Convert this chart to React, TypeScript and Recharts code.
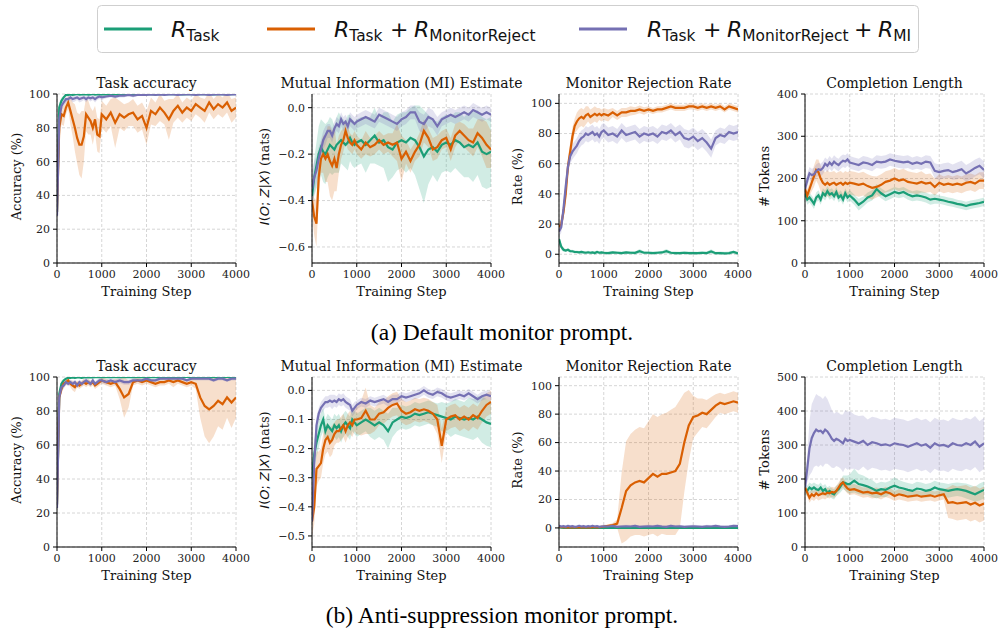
import React from 'react';
import { ComposedChart, Line, Area, XAxis, YAxis, CartesianGrid } from 'recharts';

// ---------- shared x values (training steps) ----------
const STEPS = [
  0, 50, 100, 150, 200, 250, 300, 350, 400, 450,
  500, 550, 600, 650, 700, 750, 800, 850, 900, 950,
  1000, 1100, 1200, 1300, 1400, 1500, 1600, 1700, 1800, 1900,
  2000, 2100, 2200, 2300, 2400, 2500, 2600, 2700, 2800, 2900,
  3000, 3100, 3200, 3300, 3400, 3500, 3600, 3700, 3800, 3900,
  4000,
];
const X_TICKS = [0, 1000, 2000, 3000, 4000];

const C_TASK = '#1b9e77';
const C_MON = '#d95f02';
const C_MI = '#7570b3';

// ---------- (a) Task accuracy ----------
const accA_task = [
  30, 92, 96, 98, 99.5, 99.5, 99.8, 99.5, 99.8, 100,
  99.6, 99.8, 99.7, 99.9, 99.6, 99.8, 100, 99.7, 99.9, 99.8,
  99.9, 99.8, 99.9, 99.7, 99.9, 99.8, 100, 99.9, 99.8, 99.9,
  100, 99.9, 99.8, 99.9, 100, 99.9, 99.9, 100, 99.8, 99.9,
  100, 99.9, 99.9, 100, 99.9, 99.8, 99.9, 100, 99.9, 99.9,
  100,
];
const accA_task_sd = [
  5, 3, 2, 1, 0.5, 0.5, 0.3, 0.5, 0.3, 0.2,
  0.3, 0.3, 0.3, 0.2, 0.3, 0.3, 0.2, 0.3, 0.2, 0.3,
  0.2, 0.3, 0.2, 0.3, 0.2, 0.3, 0.2, 0.2, 0.3, 0.2,
  0.2, 0.2, 0.3, 0.2, 0.2, 0.2, 0.2, 0.2, 0.3, 0.2,
  0.2, 0.2, 0.2, 0.2, 0.2, 0.3, 0.2, 0.2, 0.2, 0.2,
  0.2,
];
const accA_mon = [
  30, 80, 88, 87, 92, 95, 90, 85, 80, 74,
  70, 70, 75, 88, 86, 84, 80, 85, 76, 75,
  88, 85, 89, 83, 88, 86, 88, 89, 85, 87,
  80, 90, 88, 92, 89, 85, 90, 93, 89, 92,
  90, 94, 92, 90, 95, 91, 94, 92, 95, 90,
  92,
];
const accA_mon_sd = [
  5, 8, 6, 6, 4, 4, 8, 10, 14, 15,
  18, 20, 15, 10, 10, 8, 10, 8, 10, 10,
  8, 8, 8, 15, 8, 8, 7, 8, 8, 8,
  10, 8, 7, 8, 7, 12, 7, 7, 6, 6,
  6, 6, 6, 7, 6, 6, 6, 6, 6, 7,
  6,
];
const accA_mi = [
  28, 85, 93, 95, 97, 97, 98, 97, 97.5, 98,
  97, 97.5, 98, 97, 98, 97.5, 98, 97, 98, 98.5,
  98, 98.5, 99, 98.5, 99, 99, 99.5, 99, 99.5, 99.5,
  99.5, 99.8, 99.5, 99.8, 99.5, 99.8, 99.8, 99.5, 99.8, 99.8,
  99.8, 99.5, 99.8, 99.8, 99.5, 99.8, 99.8, 99.8, 99.5, 99.8,
  99.8,
];
const accA_mi_sd = [
  5, 5, 3, 2, 2, 2, 1.5, 2, 2, 1.5,
  2, 2, 1.5, 2, 1.5, 2, 1.5, 2, 1.5, 1.5,
  1.5, 1, 1, 1, 1, 1, 0.5, 1, 0.5, 0.5,
  0.5, 0.5, 0.5, 0.5, 0.5, 0.5, 0.5, 0.5, 0.5, 0.5,
  0.5, 0.5, 0.5, 0.5, 0.5, 0.5, 0.5, 0.5, 0.5, 0.5,
  0.5,
];

// ---------- (a) MI estimate ----------
const miA_task = [
  -0.38, -0.3, -0.25, -0.2, -0.17, -0.19, -0.2, -0.18, -0.16, -0.17,
  -0.18, -0.16, -0.15, -0.14, -0.15, -0.16, -0.15, -0.13, -0.15, -0.16,
  -0.15, -0.14, -0.16, -0.14, -0.12, -0.15, -0.14, -0.17, -0.18, -0.15,
  -0.14, -0.15, -0.13, -0.14, -0.17, -0.21, -0.18, -0.17, -0.19, -0.16,
  -0.15, -0.16, -0.14, -0.15, -0.17, -0.16, -0.17, -0.15, -0.19, -0.2,
  -0.19,
];
const miA_task_sd = [
  0.05, 0.08, 0.1, 0.12, 0.12, 0.13, 0.13, 0.12, 0.12, 0.12,
  0.1, 0.12, 0.13, 0.1, 0.1, 0.1, 0.12, 0.1, 0.1, 0.1,
  0.1, 0.1, 0.12, 0.1, 0.12, 0.1, 0.12, 0.15, 0.12, 0.12,
  0.12, 0.13, 0.13, 0.15, 0.18, 0.2, 0.15, 0.12, 0.13, 0.12,
  0.12, 0.12, 0.12, 0.13, 0.13, 0.14, 0.15, 0.14, 0.15, 0.15,
  0.15,
];
const miA_mon = [
  -0.4, -0.47, -0.5, -0.3, -0.22, -0.2, -0.22, -0.2, -0.23, -0.25,
  -0.22, -0.26, -0.2, -0.16, -0.14, -0.1, -0.13, -0.15, -0.16, -0.14,
  -0.16, -0.18, -0.15, -0.17, -0.16, -0.14, -0.16, -0.15, -0.16, -0.15,
  -0.22, -0.19, -0.23, -0.19, -0.16, -0.1, -0.13, -0.18, -0.17, -0.14,
  -0.13, -0.18, -0.12, -0.1, -0.12, -0.14, -0.15, -0.11, -0.13, -0.16,
  -0.18,
];
const miA_mon_sd = [
  0.06, 0.08, 0.1, 0.08, 0.06, 0.08, 0.1, 0.12, 0.15, 0.15,
  0.14, 0.1, 0.08, 0.06, 0.05, 0.05, 0.05, 0.04, 0.04, 0.04,
  0.04, 0.04, 0.05, 0.04, 0.04, 0.04, 0.04, 0.04, 0.05, 0.08,
  0.1, 0.05, 0.05, 0.04, 0.05, 0.05, 0.04, 0.05, 0.05, 0.04,
  0.04, 0.05, 0.05, 0.04, 0.05, 0.05, 0.06, 0.06, 0.08, 0.1,
  0.08,
];
const miA_mi = [
  -0.35, -0.3, -0.27, -0.22, -0.18, -0.14, -0.12, -0.1, -0.1, -0.12,
  -0.09, -0.07, -0.08, -0.05, -0.07, -0.06, -0.08, -0.05, -0.06, -0.07,
  -0.06, -0.05, -0.04, -0.05, -0.06, -0.03, -0.04, -0.05, -0.06, -0.07,
  -0.05, -0.04, -0.02, -0.02, -0.06, -0.07, -0.04, -0.05, -0.08, -0.05,
  -0.04, -0.03, -0.04, -0.03, -0.02, -0.03, -0.01, -0.02, -0.03, -0.02,
  -0.03,
];
const miA_mi_sd = [
  0.08, 0.07, 0.06, 0.05, 0.04, 0.04, 0.04, 0.03, 0.03, 0.03,
  0.03, 0.03, 0.03, 0.03, 0.03, 0.03, 0.03, 0.03, 0.03, 0.03,
  0.03, 0.03, 0.03, 0.03, 0.03, 0.03, 0.03, 0.03, 0.03, 0.03,
  0.03, 0.03, 0.03, 0.03, 0.04, 0.04, 0.04, 0.04, 0.04, 0.03,
  0.03, 0.03, 0.03, 0.03, 0.03, 0.03, 0.03, 0.03, 0.03, 0.03,
  0.03,
];

// ---------- (a) Monitor rejection rate ----------
const rejA_task = [
  10, 5, 3, 2.5, 3, 2, 2, 1.5, 1.5, 1.2,
  1.5, 1.2, 1, 1.3, 1, 1.2, 0.8, 1.5, 1, 1.2,
  1, 0.8, 1.2, 1, 0.8, 1.2, 1, 0.9, 2, 1,
  1, 0.8, 1, 1.2, 2, 1, 0.8, 0.7, 1, 0.8,
  0.8, 0.7, 1, 0.8, 1.8, 0.7, 0.8, 0.6, 0.8, 1.5,
  0.5,
];
const rejA_task_sd = [
  3, 2, 1.5, 1, 1, 1, 1, 1, 1, 1,
  1, 1, 1, 1, 1, 1, 1, 1, 1, 1,
  1, 1, 1, 1, 1, 1, 1, 1, 1.5, 1,
  1, 1, 1, 1, 1.5, 1, 1, 1, 1, 1,
  1, 1, 1, 1, 1.5, 1, 1, 1, 1, 1,
  1,
];
const rejA_mon = [
  18, 20, 28, 40, 58, 68, 78, 85, 88, 90,
  91, 90, 92, 93, 91, 92, 93, 92, 93, 92,
  93, 92, 94, 92, 94, 94, 95, 95, 96, 95,
  96, 95, 96, 96, 97, 98, 97, 97, 97, 98,
  98, 97, 98, 97, 98, 97, 98, 96, 98, 97,
  96,
];
const rejA_mon_sd = [
  3, 4, 5, 6, 6, 6, 6, 5, 6, 6,
  6, 6, 6, 5, 5, 5, 5, 5, 4, 4,
  4, 4, 3, 3, 3, 3, 3, 2.5, 2.5, 2.5,
  2, 2, 2, 2, 2, 2, 2, 2, 2, 2,
  2, 2, 2, 2, 2, 2, 2, 2, 2, 2,
  2,
];
const rejA_mi = [
  15, 18, 30, 45, 58, 65, 68, 70, 72, 75,
  77, 78, 80, 79, 80, 81, 79, 80, 78, 81,
  82, 79, 80, 78, 82, 79, 80, 81, 78, 80,
  79, 80, 78, 81, 80, 82, 79, 81, 77, 76,
  78, 75, 77, 74, 70, 77, 79, 78, 81, 80,
  81,
];
const rejA_mi_sd = [
  3, 4, 5, 5, 5, 5, 5, 5, 5, 5,
  5, 5, 5, 5, 5, 5, 5, 5, 5, 5,
  5, 5, 5, 5, 5, 5, 5, 5, 5, 5,
  5, 5, 5, 5, 5, 5, 5, 5, 6, 6,
  6, 6, 6, 6, 6, 5, 5, 5, 5, 5,
  5,
];

// ---------- (a) Completion length ----------
const lenA_task = [
  165, 150, 155, 148, 140, 155, 160, 150, 165, 160,
  170, 162, 165, 158, 168, 155, 160, 150, 165, 155,
  160, 150, 138, 145, 155, 160, 175, 165, 158, 163,
  168, 165, 168, 162, 158, 160, 158, 155, 150, 152,
  150, 148, 145, 143, 140, 138, 135, 138, 140, 142,
  145,
];
const lenA_task_sd = [
  10, 12, 12, 12, 12, 12, 12, 12, 12, 12,
  12, 12, 12, 12, 12, 12, 12, 12, 12, 12,
  12, 12, 14, 12, 12, 12, 12, 12, 12, 12,
  12, 12, 12, 12, 12, 12, 12, 12, 12, 12,
  10, 10, 10, 10, 10, 10, 10, 10, 10, 10,
  10,
];
const lenA_mon = [
  175, 160, 175, 190, 205, 220, 215, 200, 190, 185,
  190, 185, 188, 190, 185, 188, 190, 185, 190, 187,
  190, 188, 185, 188, 182, 178, 180, 185, 192, 195,
  200, 195, 198, 192, 190, 188, 192, 188, 190, 180,
  190, 185, 188, 185, 188, 185, 190, 192, 188, 195,
  195,
];
const lenA_mon_sd = [
  10, 15, 15, 20, 25, 25, 30, 30, 30, 30,
  30, 30, 28, 28, 28, 28, 28, 28, 28, 28,
  28, 28, 28, 28, 28, 28, 25, 25, 25, 25,
  25, 25, 25, 25, 25, 25, 25, 22, 22, 20,
  20, 20, 20, 20, 20, 20, 20, 20, 20, 20,
  20,
];
const lenA_mi = [
  175, 195, 212, 208, 210, 218, 222, 220, 225, 235,
  230, 238, 232, 240, 235, 232, 238, 242, 240, 245,
  238, 235, 232, 238, 236, 232, 240, 238, 240, 245,
  242, 240, 238, 240, 235, 238, 235, 240, 238, 218,
  215, 218, 220, 215, 218, 222, 212, 218, 225, 230,
  220,
];
const lenA_mi_sd = [
  15, 15, 15, 15, 15, 15, 15, 15, 15, 15,
  15, 15, 15, 15, 15, 15, 15, 15, 15, 15,
  15, 15, 15, 15, 15, 15, 15, 15, 15, 15,
  15, 15, 15, 15, 15, 15, 15, 15, 15, 18,
  18, 18, 18, 18, 20, 20, 20, 20, 20, 20,
  20,
];

// ---------- (b) Task accuracy ----------
const accB_task = [
  25, 90, 96, 98, 99, 99.5, 99.5, 99.8, 99.5, 99.8,
  99.8, 99.5, 99.8, 99.9, 99.8, 99.9, 99.8, 99.9, 100, 99.9,
  99.9, 99.9, 100, 99.9, 99.9, 100, 99.9, 99.9, 100, 99.9,
  100, 99.9, 99.9, 100, 99.9, 100, 99.9, 100, 99.9, 100,
  100, 99.9, 100, 99.9, 100, 99.9, 100, 99.9, 100, 100,
  100,
];
const accB_task_sd = [
  5, 3, 2, 1, 0.5, 0.5, 0.5, 0.3, 0.5, 0.3,
  0.3, 0.3, 0.3, 0.2, 0.3, 0.2, 0.3, 0.2, 0.2, 0.2,
  0.2, 0.2, 0.2, 0.2, 0.2, 0.2, 0.2, 0.2, 0.2, 0.2,
  0.2, 0.2, 0.2, 0.2, 0.2, 0.2, 0.2, 0.2, 0.2, 0.2,
  0.2, 0.2, 0.2, 0.2, 0.2, 0.2, 0.2, 0.2, 0.2, 0.2,
  0.2,
];
const accB_mon = [
  25, 88, 93, 96, 97, 98, 96, 95, 94, 96,
  95, 96, 97, 96, 97, 96, 97, 95, 96, 97,
  98, 97, 96, 97, 93, 88, 90, 97, 98, 97,
  98, 97, 96, 97, 97, 98, 97, 98, 97, 96,
  97, 96, 88, 83, 81, 83, 86, 84, 88, 85,
  88,
];
const accB_mon_sd = [
  5, 3, 3, 2, 2, 2, 2, 3, 3, 2,
  2, 2, 2, 2, 2, 2, 2, 2, 2, 2,
  2, 2, 2, 2, 6, 12, 8, 2, 2, 2,
  2, 2, 2, 2, 2, 2, 3, 2, 2, 2,
  2, 3, 12, 18, 20, 18, 15, 15, 12, 15,
  12,
];
const accB_mi = [
  23, 88, 94, 95, 97, 96, 97, 96, 97, 95,
  97, 96, 97, 98, 97, 96, 98, 96, 97, 98,
  98, 97, 98, 97, 98, 97, 97, 98, 98, 98,
  99, 98, 98, 99, 99, 99, 99, 99, 99, 98,
  99, 99, 99, 99, 99, 98, 99, 99, 98, 99,
  99,
];
const accB_mi_sd = [
  5, 3, 2, 2, 1.5, 1.5, 1.5, 1.5, 1.5, 1.5,
  1.5, 1.5, 1.5, 1.5, 1.5, 1.5, 1.5, 1.5, 1.5, 1.5,
  1.5, 1.5, 1.5, 1.5, 1.5, 1.5, 1.5, 1.5, 1, 1,
  1, 1, 1, 1, 1, 1, 1, 1, 1, 1,
  1, 1, 1, 1, 1, 1, 1, 1, 1, 1,
  1,
];

// ---------- (b) MI estimate ----------
const miB_task = [
  -0.3, -0.22, -0.18, -0.15, -0.12, -0.1, -0.14, -0.12, -0.13, -0.14,
  -0.12, -0.13, -0.12, -0.14, -0.12, -0.11, -0.12, -0.13, -0.1, -0.11,
  -0.12, -0.11, -0.1, -0.11, -0.12, -0.11, -0.12, -0.14, -0.11, -0.1,
  -0.09, -0.095, -0.09, -0.08, -0.085, -0.08, -0.075, -0.08, -0.085, -0.09,
  -0.095, -0.1, -0.09, -0.095, -0.1, -0.095, -0.1, -0.09, -0.1, -0.11,
  -0.115,
];
const miB_task_sd = [
  0.05, 0.05, 0.05, 0.05, 0.04, 0.04, 0.04, 0.04, 0.04, 0.04,
  0.04, 0.04, 0.04, 0.04, 0.04, 0.04, 0.04, 0.04, 0.04, 0.04,
  0.04, 0.04, 0.04, 0.05, 0.05, 0.05, 0.05, 0.06, 0.05, 0.04,
  0.04, 0.04, 0.04, 0.04, 0.04, 0.04, 0.04, 0.04, 0.04, 0.05,
  0.05, 0.06, 0.06, 0.06, 0.06, 0.07, 0.07, 0.07, 0.08, 0.08,
  0.08,
];
const miB_mon = [
  -0.45, -0.4, -0.27, -0.26, -0.25, -0.2, -0.17, -0.16, -0.18, -0.17,
  -0.15, -0.14, -0.14, -0.13, -0.12, -0.14, -0.12, -0.11, -0.12, -0.1,
  -0.1, -0.095, -0.07, -0.1, -0.1, -0.08, -0.075, -0.06, -0.05, -0.045,
  -0.07, -0.08, -0.075, -0.065, -0.07, -0.065, -0.07, -0.08, -0.1, -0.19,
  -0.1, -0.09, -0.085, -0.1, -0.09, -0.1, -0.085, -0.095, -0.07, -0.05,
  -0.04,
];
const miB_mon_sd = [
  0.05, 0.06, 0.06, 0.05, 0.05, 0.05, 0.05, 0.05, 0.05, 0.05,
  0.04, 0.04, 0.04, 0.04, 0.04, 0.04, 0.04, 0.04, 0.04, 0.04,
  0.05, 0.06, 0.08, 0.05, 0.04, 0.04, 0.04, 0.04, 0.04, 0.04,
  0.04, 0.04, 0.04, 0.04, 0.04, 0.04, 0.04, 0.04, 0.05, 0.06,
  0.04, 0.04, 0.04, 0.04, 0.04, 0.04, 0.04, 0.04, 0.04, 0.04,
  0.04,
];
const miB_mi = [
  -0.45, -0.25, -0.12, -0.08, -0.06, -0.05, -0.04, -0.04, -0.035, -0.04,
  -0.035, -0.04, -0.03, -0.035, -0.03, -0.04, -0.045, -0.05, -0.07, -0.06,
  -0.05, -0.04, -0.045, -0.035, -0.04, -0.035, -0.03, -0.04, -0.03, -0.03,
  -0.02, -0.025, -0.02, -0.015, -0.01, 0, -0.01, -0.015, -0.005, -0.01,
  -0.02, -0.025, -0.02, -0.015, -0.02, -0.01, -0.02, -0.03, -0.02, -0.015,
  -0.02,
];
const miB_mi_sd = [
  0.05, 0.05, 0.03, 0.02, 0.02, 0.02, 0.02, 0.02, 0.02, 0.025,
  0.02, 0.02, 0.02, 0.02, 0.02, 0.02, 0.02, 0.02, 0.02, 0.02,
  0.015, 0.015, 0.015, 0.015, 0.015, 0.015, 0.015, 0.015, 0.015, 0.015,
  0.015, 0.015, 0.015, 0.015, 0.015, 0.015, 0.015, 0.015, 0.015, 0.015,
  0.015, 0.015, 0.015, 0.015, 0.015, 0.015, 0.015, 0.015, 0.015, 0.015,
  0.015,
];

// ---------- (b) Monitor rejection rate ----------
const rejB_task = [
  0.3, 0.2, 0.1, 0.1, 0.1, 0.1, 0.1, 0.1, 0.1, 0.1,
  0.1, 0.1, 0.1, 0.1, 0.1, 0.1, 0.1, 0.1, 0.1, 0.1,
  0.1, 0.1, 0.1, 0.1, 0.1, 0.1, 0.1, 0.1, 0.1, 0.1,
  0.1, 0.1, 0.1, 0.1, 0.1, 0.1, 0.1, 0.1, 0.1, 0.1,
  0.1, 0.1, 0.1, 0.1, 0.1, 0.1, 0.1, 0.1, 0.1, 0.1,
  0.1,
];
const rejB_task_sd = [
  0.3, 0.2, 0.2, 0.2, 0.2, 0.2, 0.2, 0.2, 0.2, 0.2,
  0.2, 0.2, 0.2, 0.2, 0.2, 0.2, 0.2, 0.2, 0.2, 0.2,
  0.2, 0.2, 0.2, 0.2, 0.2, 0.2, 0.2, 0.2, 0.2, 0.2,
  0.2, 0.2, 0.2, 0.2, 0.2, 0.2, 0.2, 0.2, 0.2, 0.2,
  0.2, 0.2, 0.2, 0.2, 0.2, 0.2, 0.2, 0.2, 0.2, 0.2,
  0.2,
];
const rejB_mon = [
  1, 0.5, 0.5, 0.3, 0.3, 0.5, 0.3, 0.5, 0.3, 0.5,
  0.3, 0.5, 0.3, 0.5, 0.3, 0.5, 0.5, 0.3, 0.5, 0.8,
  1, 1.5, 2, 3, 14, 26, 30, 32, 33, 32,
  35, 38, 36, 38, 38, 39, 40, 45, 60, 72,
  78, 79, 81, 80, 83, 86, 88, 87, 88, 89,
  88,
];
const rejB_mon_sd = [
  1, 0.5, 0.5, 0.5, 0.5, 0.5, 0.5, 0.5, 0.5, 0.5,
  0.5, 0.5, 0.5, 0.5, 0.5, 0.5, 0.5, 0.5, 0.5, 0.5,
  1, 1, 1.5, 3, 25, 35, 36, 37, 38, 38,
  40, 42, 42, 42, 43, 44, 45, 45, 35, 25,
  15, 12, 10, 10, 9, 8, 7, 7, 7, 7,
  7,
];
const rejB_mi = [
  1.5, 1, 1.2, 0.8, 1.5, 1, 1.2, 0.8, 1, 1.5,
  1, 1.2, 0.8, 1.2, 1, 1.5, 1, 1.2, 0.8, 1,
  1.2, 1, 1.5, 0.8, 1, 1.2, 1, 1.5, 0.8, 1,
  1.2, 1, 1.5, 1, 0.8, 1.5, 1, 1.2, 0.8, 1,
  1.2, 1, 0.8, 1.2, 1, 1.5, 1, 0.8, 1, 1.5,
  1.2,
];
const rejB_mi_sd = [
  1, 1, 1, 1, 1, 1, 1, 1, 1, 1,
  1, 1, 1, 1, 1, 1, 1, 1, 1, 1,
  1, 1, 1, 1, 1, 1, 1, 1, 1, 1,
  1, 1, 1, 1, 1, 1, 1, 1, 1, 1,
  1, 1, 1, 1, 1, 1, 1, 1, 1, 1,
  1,
];

// ---------- (b) Completion length ----------
const lenB_task = [
  170, 165, 175, 170, 175, 170, 168, 175, 165, 170,
  160, 165, 158, 155, 165, 170, 180, 190, 188, 185,
  185, 195, 185, 182, 178, 172, 165, 170, 168, 175,
  180, 175, 172, 168, 165, 172, 170, 165, 168, 175,
  170, 168, 165, 168, 170, 168, 165, 160, 155, 162,
  168,
];
const lenB_task_sd = [
  15, 15, 15, 15, 15, 15, 15, 15, 15, 15,
  15, 15, 15, 15, 15, 15, 18, 20, 22, 25,
  28, 35, 30, 28, 25, 25, 22, 22, 22, 20,
  25, 22, 20, 20, 20, 20, 20, 20, 20, 20,
  20, 20, 20, 20, 20, 20, 22, 22, 22, 25,
  25,
];
const lenB_mon = [
  175, 160, 145, 155, 150, 158, 152, 155, 158, 155,
  160, 158, 162, 160, 165, 175, 185, 190, 180, 172,
  168, 170, 165, 160, 162, 158, 160, 155, 162, 158,
  150, 155, 152, 148, 150, 152, 148, 150, 152, 148,
  152, 155, 130, 132, 128, 130, 132, 125, 130, 122,
  128,
];
const lenB_mon_sd = [
  10, 12, 15, 15, 15, 15, 15, 15, 15, 15,
  15, 15, 15, 15, 15, 15, 15, 15, 15, 15,
  15, 15, 15, 15, 15, 15, 15, 15, 15, 15,
  15, 15, 15, 15, 15, 15, 15, 15, 15, 15,
  15, 15, 45, 50, 50, 50, 50, 50, 50, 50,
  50,
];
const lenB_mi = [
  175, 230, 290, 320, 335, 345, 340, 342, 335, 345,
  340, 330, 318, 312, 318, 315, 310, 305, 318, 312,
  315, 310, 305, 312, 300, 308, 305, 300, 302, 298,
  305, 302, 300, 295, 300, 305, 298, 302, 292, 305,
  298, 300, 295, 305, 300, 298, 305, 300, 310, 295,
  305,
];
const lenB_mi_sd = [
  10, 40, 80, 100, 100, 105, 105, 100, 100, 100,
  95, 90, 85, 80, 80, 80, 80, 85, 85, 85,
  85, 80, 80, 75, 75, 75, 75, 75, 75, 75,
  75, 75, 75, 75, 75, 75, 75, 75, 75, 75,
  75, 75, 75, 75, 75, 75, 75, 75, 75, 75,
  75,
];

// ---------- layout helpers ----------
const SERIF = 'DejaVu Serif';
const SANS = 'DejaVu Sans';
const intFmt = (v: number) => String(Math.round(v));
const miFmt = (v: number) => (Math.abs(v) < 1e-9 ? '0.0' : (v < 0 ? '\u2212' : '') + Math.abs(v).toFixed(1));

type Series = { mean: number[]; sd: number[]; color: string };

function Panel(props: {
  left: number; top: number; w: number; h: number;
  domain: [number, number]; ticks: number[]; fmt: (v: number) => string;
  series: Series[];
}) {
  const { left, top, w, h, domain, ticks, fmt, series } = props;
  const ML = 50, MT = 10, MR = 18, XH = 34;
  const data = STEPS.map((s, i) => {
    const row: any = { step: s };
    series.forEach((sr, k) => {
      row['m' + k] = sr.mean[i];
      row['b' + k] = [sr.mean[i] - sr.sd[i], sr.mean[i] + sr.sd[i]];
    });
    return row;
  });
  const tickStyle = { fontSize: 11, fontFamily: SERIF, fill: '#222' };
  const items: any[] = [];
  series.forEach((sr, k) => {
    items.push(
      <Area key={'b' + k} dataKey={'b' + k} type="linear" stroke="none" fill={sr.color}
        fillOpacity={0.2} isAnimationActive={false} dot={false} activeDot={false} />
    );
  });
  series.forEach((sr, k) => {
    items.push(
      <Line key={'m' + k} dataKey={'m' + k} type="linear" stroke={sr.color} strokeWidth={2.2}
        dot={false} activeDot={false} isAnimationActive={false} />
    );
  });
  return (
    <div style={{ position: 'absolute', left: left - ML, top: top - MT, fontFamily: SERIF }}>
      <ComposedChart width={w + ML + MR} height={h + MT + XH} data={data}
        margin={{ top: MT, right: MR, bottom: 0, left: 0 }} style={{ fontFamily: SERIF }}>
        <CartesianGrid stroke="#d6d6d6" strokeDasharray="3 2" />
        <XAxis dataKey="step" type="number" domain={[0, 4000]} ticks={X_TICKS} interval={0}
          allowDataOverflow height={XH} tickSize={4} tickMargin={3} stroke="#000"
          tick={tickStyle} fontFamily={SERIF} />
        <XAxis xAxisId="top" orientation="top" dataKey="step" type="number" domain={[0, 4000]}
          height={0} tick={false} tickLine={false} stroke="#666" />
        <YAxis type="number" domain={domain} ticks={ticks} interval={0} allowDataOverflow
          width={ML} tickSize={4} tickMargin={3} tickFormatter={fmt} stroke="#000" tick={tickStyle}
          fontFamily={SERIF} />
        <YAxis yAxisId="right" orientation="right" type="number" domain={domain}
          width={0} tick={false} tickLine={false} stroke="#666" />
        {items}
      </ComposedChart>
    </div>
  );
}

const COLS = [57, 312, 559, 805];
const PW = 179;
const ROWS = [94, 377];
const PH = [169, 170];

const TITLES = ['Task accuracy', 'Mutual Information (MI) Estimate', 'Monitor Rejection Rate', 'Completion Length'];
const YLABELS = ['Accuracy (%)', 'MI', 'Rate (%)', '# Tokens'];
const YLABEL_X = [16, 264, 517, 764];
const CAPTIONS = ['(a) Default monitor prompt.', '(b) Anti-suppression monitor prompt.'];

function MiLabel({ x, y }: { x: number; y: number }) {
  return (
    <text transform={`translate(${x},${y}) rotate(-90)`} textAnchor="middle" dominantBaseline="central"
      fontSize={13} fill="#111">
      <tspan fontFamily={SANS} fontStyle="italic">I</tspan>
      <tspan fontFamily={SANS}>(</tspan>
      <tspan fontFamily={SANS} fontStyle="italic">O</tspan>
      <tspan fontFamily={SANS}>; </tspan>
      <tspan fontFamily={SANS} fontStyle="italic">Z</tspan>
      <tspan fontFamily={SANS}>|</tspan>
      <tspan fontFamily={SANS} fontStyle="italic">X</tspan>
      <tspan fontFamily={SANS}>)</tspan>
      <tspan fontFamily={SERIF}> (nats)</tspan>
    </text>
  );
}

export default function App() {
  const panelsA: Series[][] = [
    [{ mean: accA_task, sd: accA_task_sd, color: C_TASK }, { mean: accA_mon, sd: accA_mon_sd, color: C_MON }, { mean: accA_mi, sd: accA_mi_sd, color: C_MI }],
    [{ mean: miA_task, sd: miA_task_sd, color: C_TASK }, { mean: miA_mon, sd: miA_mon_sd, color: C_MON }, { mean: miA_mi, sd: miA_mi_sd, color: C_MI }],
    [{ mean: rejA_task, sd: rejA_task_sd, color: C_TASK }, { mean: rejA_mon, sd: rejA_mon_sd, color: C_MON }, { mean: rejA_mi, sd: rejA_mi_sd, color: C_MI }],
    [{ mean: lenA_task, sd: lenA_task_sd, color: C_TASK }, { mean: lenA_mon, sd: lenA_mon_sd, color: C_MON }, { mean: lenA_mi, sd: lenA_mi_sd, color: C_MI }],
  ];
  const panelsB: Series[][] = [
    [{ mean: accB_task, sd: accB_task_sd, color: C_TASK }, { mean: accB_mon, sd: accB_mon_sd, color: C_MON }, { mean: accB_mi, sd: accB_mi_sd, color: C_MI }],
    [{ mean: miB_task, sd: miB_task_sd, color: C_TASK }, { mean: miB_mon, sd: miB_mon_sd, color: C_MON }, { mean: miB_mi, sd: miB_mi_sd, color: C_MI }],
    [{ mean: rejB_task, sd: rejB_task_sd, color: C_TASK }, { mean: rejB_mon, sd: rejB_mon_sd, color: C_MON }, { mean: rejB_mi, sd: rejB_mi_sd, color: C_MI }],
    [{ mean: lenB_task, sd: lenB_task_sd, color: C_TASK }, { mean: lenB_mon, sd: lenB_mon_sd, color: C_MON }, { mean: lenB_mi, sd: lenB_mi_sd, color: C_MI }],
  ];
  const axesA = [
    { domain: [0, 100], ticks: [0, 20, 40, 60, 80, 100], fmt: intFmt },
    { domain: [-0.669, 0.059], ticks: [-0.6, -0.4, -0.2, 0], fmt: miFmt },
    { domain: [-5.8, 106.2], ticks: [0, 20, 40, 60, 80, 100], fmt: intFmt },
    { domain: [0, 400], ticks: [0, 100, 200, 300, 400], fmt: intFmt },
  ];
  const axesB = [
    { domain: [0, 100], ticks: [0, 20, 40, 60, 80, 100], fmt: intFmt },
    { domain: [-0.538, 0.046], ticks: [-0.5, -0.4, -0.3, -0.2, -0.1, 0], fmt: miFmt },
    { domain: [-13.4, 106.1], ticks: [0, 20, 40, 60, 80, 100], fmt: intFmt },
    { domain: [0, 500], ticks: [0, 100, 200, 300, 400, 500], fmt: intFmt },
  ];
  const rows = [
    { panels: panelsA, axes: axesA },
    { panels: panelsB, axes: axesB },
  ];

  const sub = 15.4;
  return (
    <div style={{ position: 'fixed', left: 0, top: 0, width: 999, height: 630, background: '#fff', overflow: 'hidden', fontFamily: SERIF }}>
      {rows.map((r, ri) =>
        r.panels.map((series, ci) => (
          <Panel key={ri + '-' + ci} left={COLS[ci]} top={ROWS[ri]} w={PW} h={PH[ri]}
            domain={r.axes[ci].domain as [number, number]} ticks={r.axes[ci].ticks}
            fmt={r.axes[ci].fmt} series={series} />
        ))
      )}
      <svg width={999} height={630} style={{ position: 'absolute', left: 0, top: 0, pointerEvents: 'none' }}>
        {/* legend */}
        <rect x={97.5} y={5.5} width={821} height={47} rx={4} fill="#fff" stroke="#cfcfcf" />
        <line x1={104} x2={152} y1={29} y2={29} stroke={C_TASK} strokeWidth={3} />
        <line x1={267} x2={315} y1={29} y2={29} stroke={C_MON} strokeWidth={3} />
        <line x1={579} x2={627} y1={29} y2={29} stroke={C_MI} strokeWidth={3} />
        <text y={37} fontFamily={SANS} fontSize={22} fill="#111">
          <tspan x={171} fontStyle="italic">R</tspan>
          <tspan fontSize={sub} dy={4}>Task</tspan>
        </text>
        <text y={37} fontFamily={SANS} fontSize={22} fill="#111">
          <tspan x={334} fontStyle="italic">R</tspan>
          <tspan fontSize={sub} dy={4}>Task</tspan>
          <tspan x={390} dy={-4}>+</tspan>
          <tspan x={414} fontStyle="italic">R</tspan>
          <tspan fontSize={sub} dy={4}>MonitorReject</tspan>
        </text>
        <text y={37} fontFamily={SANS} fontSize={22} fill="#111">
          <tspan x={647} fontStyle="italic">R</tspan>
          <tspan fontSize={sub} dy={4}>Task</tspan>
          <tspan x={703} dy={-4}>+</tspan>
          <tspan x={727} fontStyle="italic">R</tspan>
          <tspan fontSize={sub} dy={4}>MonitorReject</tspan>
          <tspan x={854} dy={-4}>+</tspan>
          <tspan x={878} fontStyle="italic">R</tspan>
          <tspan fontSize={sub} dy={4}>MI</tspan>
        </text>
        {/* titles, axis labels, captions */}
        {[0, 1].map((ri) => (
          <g key={'row' + ri}>
            {COLS.map((cx, ci) => {
              const mid = cx + PW / 2;
              const ymid = ROWS[ri] + PH[ri] / 2 - 2;
              return (
                <g key={'c' + ci}>
                  <text x={mid} y={ROWS[ri] - 6} textAnchor="middle" fontFamily={SERIF} fontSize={14} fill="#111">
                    {TITLES[ci]}
                  </text>
                  <text x={mid} y={ROWS[ri] + PH[ri] + 33} textAnchor="middle" fontFamily={SERIF} fontSize={13} fill="#111">
                    Training Step
                  </text>
                  {YLABELS[ci] === 'MI' ? (
                    <MiLabel x={YLABEL_X[ci]} y={ymid} />
                  ) : (
                    <text transform={`translate(${YLABEL_X[ci]},${ymid}) rotate(-90)`} textAnchor="middle"
                      dominantBaseline="central" fontFamily={SERIF} fontSize={13} fill="#111">
                      {YLABELS[ci]}
                    </text>
                  )}
                </g>
              );
            })}
            <text x={502} y={ri === 0 ? 340 : 623} textAnchor="middle" fontFamily="Liberation Serif" fontSize={23.5} fill="#000">
              {CAPTIONS[ri]}
            </text>
          </g>
        ))}
      </svg>
    </div>
  );
}
